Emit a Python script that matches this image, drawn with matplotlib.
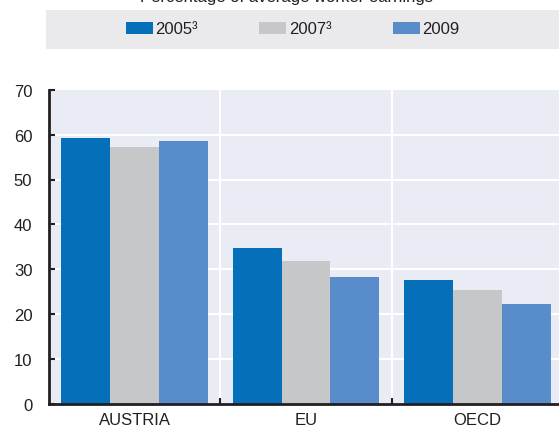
import matplotlib.pyplot as plt
from matplotlib.patches import Rectangle
import numpy as np

categories = ["AUSTRIA", "EU", "OECD"]
series_names = ["2005\u00b3", "2007\u00b3", "2009"]
values_2005 = [59.3, 34.7, 27.6]
values_2007 = [57.3, 31.8, 25.4]
values_2009 = [58.6, 28.3, 22.3]
y_ticks = [0, 10, 20, 30, 40, 50, 60, 70]

colors = ["#0570b9", "#c6c7c9", "#588ccb"]

plt.rcParams["font.family"] = ["Liberation Sans Narrow", "Liberation Sans", "DejaVu Sans"]

fig = plt.figure(figsize=(5.59, 4.27), dpi=100)
W, H = 559, 427
# axes runs past the right edge of the figure, as in the original
ax = fig.add_axes([49 / W, 22 / H, (563 - 49) / W, (405 - 90.7) / H])
ax.set_facecolor("#e9ecf5")

x = np.arange(len(categories))
width = 0.285
series = [values_2005, values_2007, values_2009]
for i, (vals, name, c) in enumerate(zip(series, series_names, colors)):
    ax.bar(x + (i - 1) * width, vals, width, color=c, label=name, zorder=3, linewidth=0)

ax.set_xlim(-0.5, 2.5)
ax.set_ylim(0, 70)
ax.set_yticks(y_ticks)
ax.set_xticks(x)
ax.set_xticklabels(categories)
ax.set_xticks([0.5, 1.5], minor=True)

for s in ["top", "right"]:
    ax.spines[s].set_visible(False)
for s in ["left", "bottom"]:
    ax.spines[s].set_linewidth(2)
    ax.spines[s].set_color("#231f20")
    ax.spines[s].set_zorder(4)

ax.tick_params(axis="y", direction="in", length=4, width=1.5, pad=12, labelsize=12, colors="#231f20")
ax.tick_params(axis="x", which="major", length=0, pad=6, labelsize=12, colors="#231f20")
ax.tick_params(axis="x", which="minor", direction="in", length=4, width=1.5, color="#231f20")

for yv in y_ticks[1:-1]:
    ax.axhline(yv, color="white", linewidth=1.5, zorder=1)
for xv in [0.5, 1.5]:
    ax.axvline(xv, color="white", linewidth=1.5, zorder=1)

# legend panel
fig.patches.append(Rectangle((46 / W, 1 - 50 / H), (W - 46) / W, 39 / H,
                             transform=fig.transFigure, facecolor="#eaeaec",
                             edgecolor="none", zorder=0))
handles, labels = ax.get_legend_handles_labels()
fig.legend(handles, labels, ncol=3, frameon=False, loc="center left",
           bbox_to_anchor=(111 / W, 1 - 30 / H), fontsize=12,
           handlelength=1.6, handleheight=0.75, handletextpad=0.15,
           columnspacing=3.7, labelcolor="#231f20")

fig.text(287 / W, 1 - 2 / H, "Percentage of average worker earnings",
         ha="center", va="baseline", fontsize=12, color="#231f20")

plt.savefig("out.png", dpi=100)
plt.close()
